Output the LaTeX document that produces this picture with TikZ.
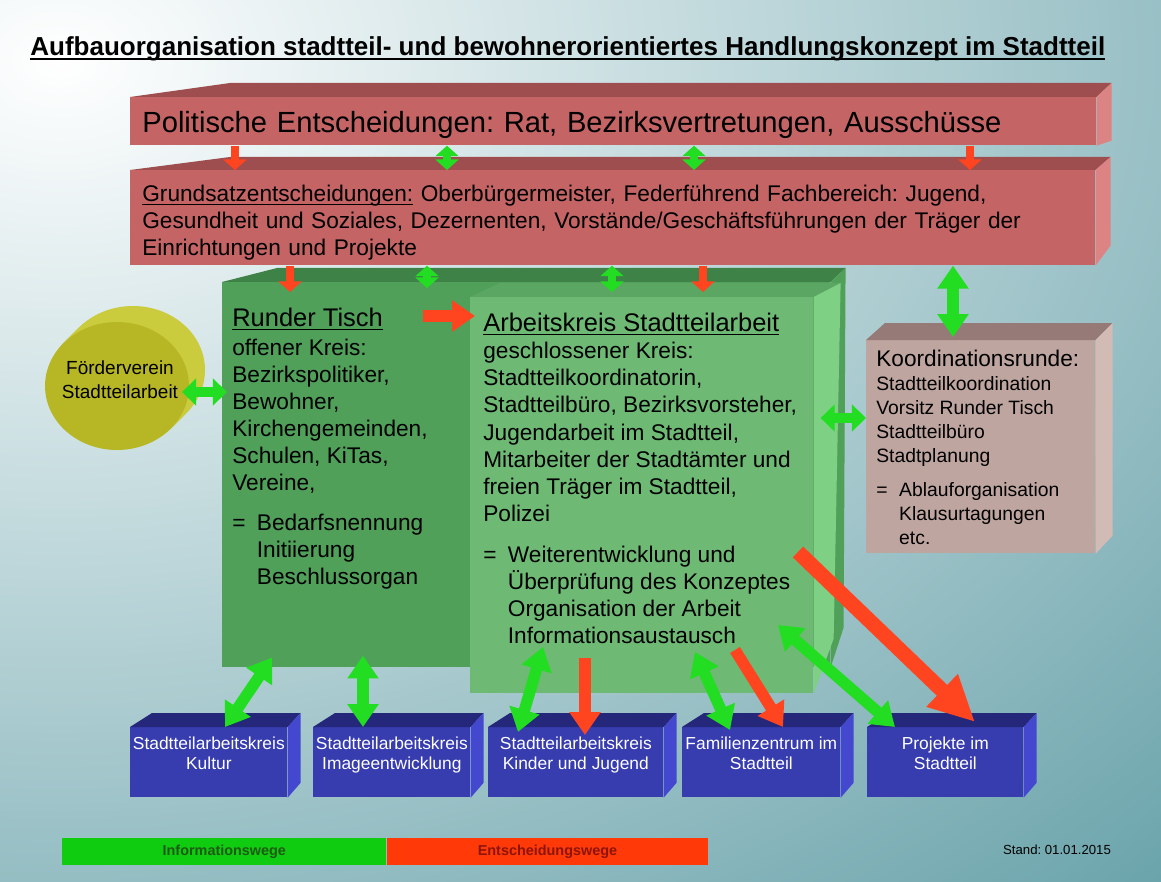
\documentclass[tikz,border=0pt]{standalone}
\usepackage{fontspec}
\setmainfont{Liberation Sans}
\usetikzlibrary{arrows.meta, calc, shapes.geometric}
\definecolor{bgteal}{HTML}{3C8791}
\definecolor{bglight}{HTML}{E6F1F3}
\definecolor{redfront}{HTML}{C46464}
\definecolor{redtop}{HTML}{9E4E4E}
\definecolor{redside}{HTML}{DC8484}
\definecolor{rtfront}{HTML}{50A05A}
\definecolor{rttop}{HTML}{3E8248}
\definecolor{akfront}{HTML}{6EBA74}
\definecolor{aktop}{HTML}{5AA662}
\definecolor{akside}{HTML}{7ED084}
\definecolor{kofront}{HTML}{BEA5A0}
\definecolor{kotop}{HTML}{967A78}
\definecolor{koside}{HTML}{D2BAB5}
\definecolor{bfront}{HTML}{373CAF}
\definecolor{btop}{HTML}{25287A}
\definecolor{bside}{HTML}{4348CF}
\definecolor{fvfront}{HTML}{B7B726}
\definecolor{fvside}{HTML}{CBCB3E}
\definecolor{infog}{HTML}{22DD22}
\definecolor{decr}{HTML}{FF4420}
\definecolor{legg}{HTML}{10CC10}
\definecolor{legr}{HTML}{FF3A08}
\newcommand{\headfont}{\fontsize{14.5}{15.4}\selectfont}
\newsavebox{\ulbox}
\newcommand{\uln}[1]{\sbox{\ulbox}{#1}\rlap{\rule[-2pt]{\wd\ulbox}{0.8pt}}\usebox{\ulbox}}

\begin{document}
\frenchspacing
\begin{tikzpicture}[x=0.02cm, y=-0.02cm,
    face/.style={fill=#1, inner sep=0pt, anchor=north west},
    body/.style={font=\fontsize{12.9}{15.4}\selectfont, align=left, inner sep=0pt, anchor=north west},
    small/.style={font=\fontsize{11}{13.65}\selectfont, align=left, inner sep=0pt, anchor=north west},
    btext/.style={font=\fontsize{9.9}{11.4}\selectfont, align=center, inner sep=0pt, anchor=north, text=white},
    legend/.style={fill=#1, inner sep=0pt, anchor=north west, minimum height=0.54cm, font=\bfseries\fontsize{8.2}{10}\selectfont},
    info/.style={draw=infog, line width=6.5pt, {Triangle[length=13pt,width=17pt]}-{Triangle[length=13pt,width=17pt]}},
    infoshort/.style={draw=infog, line width=6pt, {Triangle[length=8pt,width=15pt]}-{Triangle[length=8pt,width=15pt]}},
    dec/.style={draw=decr, line width=6.5pt, -{Triangle[length=13pt,width=17pt]}},
    infos/.style={draw=infog, line width=4.5pt, {Triangle[length=6pt,width=13pt]}-{Triangle[length=6pt,width=13pt]}},
    decs/.style={draw=decr, line width=5pt, -{Triangle[length=6pt,width=13pt]}}]

  % background
  \useasboundingbox (0,0) rectangle (1161,882);
  \begin{scope}
    \clip (0,0) rectangle (1161,882);
    \fill[bgteal] (0,0) rectangle (1161,882);
    \shade[inner color=bglight, outer color=bgteal] (1161,882) ellipse [x radius=950, y radius=720];
    \shade[inner color=white, outer color=bgteal] (60,60) ellipse [x radius=2100, y radius=1500];
  \end{scope}

  \node[anchor=base west, inner sep=0pt, font=\bfseries\fontsize{14.8}{17}\selectfont] (title) at (30,56)
    {\uln{Aufbauorganisation stadtteil- und bewohnerorientiertes Handlungskonzept im Stadtteil}};

  % red bars
  \node[face=redfront, minimum height=0.96cm, text width=18.84cm, inner xsep=0.24cm, align=left,
        font=\fontsize{16.6}{20}\selectfont] (pol) at (130,97)
    {\rule{0pt}{16.6pt}Politische Entscheidungen: Rat, Bezirksvertretungen, Ausschüsse};
  \fill[redtop] (pol.north west) -- ++(100,-14) -- ($(pol.north east)+(15,-14)$) -- (pol.north east) -- cycle;
  \fill[redside] (pol.north east) -- ++(15,-14) -- ($(pol.south east)+(15,-5)$) -- (pol.south east) -- cycle;

  \node[face=redfront, minimum height=1.9cm, text width=18.82cm, inner xsep=0.24cm, align=left,
        font=\fontsize{12.9}{15.4}\selectfont] (grund) at (130,170)
    {\rule{0pt}{15pt}\uln{Grundsatzentscheidungen:} Oberbürgermeister, Federführend Fachbereich: Jugend,\\
     Gesundheit und Soziales, Dezernenten, Vorstände/Geschäftsführungen der Träger der\\
     Einrichtungen und Projekte};
  \fill[redtop] (grund.north west) -- ++(100,-13) -- ($(grund.north east)+(15,-13)$) -- (grund.north east) -- cycle;
  \fill[redside] (grund.north east) -- ++(15,-13) -- ($(grund.south east)+(15,-20)$) -- (grund.south east) -- cycle;

  % green boxes
  \node[face=rtfront, minimum width=12.16cm, minimum height=7.7cm] (rt) at (222,282) {};
  \fill[rttop] (rt.north west) -- ++(55,-14) -- ($(rt.north east)+(15,-14)$) -- (rt.north east) -- cycle;
  \fill[rtfront] (rt.north east) -- ++(15,-14) -- ($(rt.south east)+(13,-40)$) -- (rt.south east) -- cycle;

  \node[face=akfront, minimum width=6.86cm, minimum height=7.92cm] (ak) at (470,297) {};
  \fill[aktop] (ak.north west) -- ++(30,-14) -- ($(ak.north east)+(27,-14)$) -- (ak.north east) -- cycle;
  \fill[akside] (ak.north east) -- ++(27,-14) -- ($(ak.south east)+(20,-55)$) -- (ak.south east) -- cycle;

  % Koordinationsrunde
  \node[face=kofront, minimum width=4.58cm, minimum height=4.26cm] (ko) at (866,340) {};
  \fill[kotop] (ko.north west) -- ++(19,-17) -- ($(ko.north east)+(17,-17)$) -- (ko.north east) -- cycle;
  \fill[koside] (ko.north east) -- ++(17,-17) -- ($(ko.south east)+(17,-18)$) -- (ko.south east) -- cycle;

  % Foerderverein
  \foreach \s in {1,...,16}
    \fill[fvside] (117+\s,386-\s) ellipse [x radius=72, y radius=64];
  \node[ellipse, fill=fvfront, minimum width=2.88cm, minimum height=2.56cm, inner sep=0pt] (fv) at (117,386) {};

  % blue boxes
  \node[face=bfront, minimum width=3.14cm, minimum height=1.4cm] (b1) at (130,727) {};
  \node[face=bfront, minimum width=3.14cm, minimum height=1.4cm] (b2) at (313,727) {};
  \node[face=bfront, minimum width=3.5cm, minimum height=1.4cm] (b3) at (488,727) {};
  \node[face=bfront, minimum width=3.16cm, minimum height=1.4cm] (b4) at (682,727) {};
  \node[face=bfront, minimum width=3.12cm, minimum height=1.4cm] (b5) at (867,727) {};
  \foreach \b in {b1,b2,b3,b4,b5} {
    \fill[btop] (\b.north west) -- ++(22,-14) -- ($(\b.north east)+(13,-14)$) -- (\b.north east) -- cycle;
    \fill[bside] (\b.north east) -- ++(13,-14) -- ($(\b.south east)+(13,-15)$) -- (\b.south east) -- cycle;
  }

  % texts
  \node[body] (rttext) at (232,308)
    {{\headfont\uln{Runder Tisch}}\\[1pt]
     offener Kreis:\\ Bezirkspolitiker,\\ Bewohner,\\ Kirchengemeinden,\\ Schulen, KiTas,\\ Vereine,\\[7pt]
     =\hspace{0.5em}Bedarfsnennung\\ \hphantom{=}\hspace{0.5em}Initiierung\\ \hphantom{=}\hspace{0.5em}Beschlussorgan};
  \node[body] (aktext) at (483,313)
    {{\headfont\uln{Arbeitskreis Stadtteilarbeit}}\\[0pt]
     geschlossener Kreis:\\ Stadtteilkoordinatorin,\\ Stadtteilbüro, Bezirksvorsteher,\\ Jugendarbeit im Stadtteil,\\
     Mitarbeiter der Stadtämter und\\ freien Träger im Stadtteil,\\ Polizei\\[8pt]
     =\hspace{0.5em}Weiterentwicklung und\\ \hphantom{=}\hspace{0.5em}Überprüfung des Konzeptes\\
     \hphantom{=}\hspace{0.5em}Organisation der Arbeit\\ \hphantom{=}\hspace{0.5em}Informationsaustausch};
  \node[body] (kohead) at (876,350) {Koordinationsrunde:};
  \node[small] (kobody) at (876,376)
    {Stadtteilkoordination\\ Vorsitz Runder Tisch\\ Stadtteilbüro\\ Stadtplanung\\[6pt]
     =\hspace{0.6em}Ablauforganisation\\ \hphantom{=}\hspace{0.6em}Klausurtagungen\\ \hphantom{=}\hspace{0.6em}etc.};
  \node[font=\fontsize{10.8}{13.65}\selectfont, align=center, inner sep=0pt] (fvtext) at (120,380)
    {Förderverein\\ Stadtteilarbeit};

  \node[btext] (bt1) at ($(b1.north)+(0,10)$) {Stadtteilarbeitskreis\\ Kultur};
  \node[btext] (bt2) at ($(b2.north)+(0,10)$) {Stadtteilarbeitskreis\\ Imageentwicklung};
  \node[btext] (bt3) at ($(b3.north)+(0,10)$) {Stadtteilarbeitskreis\\ Kinder und Jugend};
  \node[btext] (bt4) at ($(b4.north)+(0,10)$) {Familienzentrum im\\ Stadtteil};
  \node[btext] (bt5) at ($(b5.north)+(0,10)$) {Projekte im\\ Stadtteil};

  % legend
  \node[legend=legg, minimum width=6.48cm, text={rgb,255:red,30;green,90;blue,20}] (lgi) at (62,838) {Informationswege};
  \node[legend=legr, minimum width=6.42cm, text={rgb,255:red,140;green,20;blue,10}] (lge) at (lgi.north east) {Entscheidungswege};
  \node[font=\fontsize{7.5}{9}\selectfont] (stand) at (1057,850) {Stand: 01.01.2015};

  % arrows between the bars
  \draw[decs] (pol.south -| 235,0) -- (grund.north -| 235,0);
  \draw[infos] (pol.south -| 447,0) -- (grund.north -| 447,0);
  \draw[infos] (pol.south -| 694,0) -- (grund.north -| 694,0);
  \draw[decs] (pol.south -| 970,0) -- (grund.north -| 970,0);
  \draw[decs] (grund.south -| 290,0) -- ($(rt.north -| 290,0)+(0,10)$);
  \draw[infos] (grund.south -| 427,0) -- ($(rt.north -| 427,0)+(0,6)$);
  \draw[infos] (grund.south -| 612,0) -- ($(ak.north -| 612,0)+(0,-5)$);
  \draw[decs] (grund.south -| 703,0) -- ($(ak.north -| 703,0)+(0,-5)$);
  \draw[info] (grund.south -| 953,0) -- ($(ko.north -| 953,0)+(0,-3)$);

  % arrows in the middle
  \coordinate (fvin) at (182,392);
  \coordinate (rtak) at (423,316);
  \draw[infoshort] (fvin) -- ($(rt.west |- 0,392)+(5,0)$);
  \draw[dec] (rtak) -- ($(ak.west |- 0,316)+(5,0)$);
  \draw[infoshort] ($(ak.east |- 0,418)+(7,0)$) -- (ko.west |- 0,418);

  % arrows to the working groups
  \coordinate (ak1) at (543,647);
  \coordinate (ak2) at (585,658);
  \coordinate (ak3) at (695,652);
  \coordinate (ak4) at (735,650);
  \coordinate (ak5) at (778,625);
  \coordinate (ak6) at (798,552);
  \draw[info] ($(rt.south -| 272,0)+(0,-10)$) -- (b1.north -| 225,0);
  \draw[info] ($(rt.south -| 363,0)+(0,-12)$) -- (b2.north -| 363,0);
  \draw[info] (ak1) -- ($(b3.north -| 518,0)+(0,5)$);
  \draw[dec] (ak2) -- ($(b3.north -| 585,0)+(0,8)$);
  \draw[info] (ak3) -- ($(b4.north -| 730,0)+(0,3)$);
  \draw[dec] (ak4) -- (b4.north -| 783,0);
  \draw[info] (ak5) -- (b5.north -| 895,0);
  \draw[draw=decr, line width=8.5pt, -{Triangle[length=26pt,width=24pt]}] (ak6) -- ($(b5.north -| 975,0)+(0,-5)$);
\end{tikzpicture}
\end{document}
